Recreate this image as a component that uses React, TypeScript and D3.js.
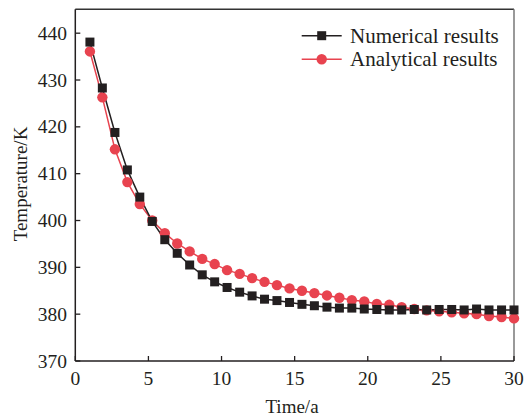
import React from "react";
import * as d3 from "d3";

const timeValues = [1.0, 1.85, 2.71, 3.56, 4.41, 5.26, 6.12, 6.97, 7.82, 8.68, 9.53, 10.38, 11.24, 12.09, 12.94, 13.79, 14.65, 15.5, 16.35, 17.21, 18.06, 18.91, 19.76, 20.62, 21.47, 22.32, 23.18, 24.03, 24.88, 25.74, 26.59, 27.44, 28.29, 29.15, 30.0];
const numericalResults = [438.1, 428.3, 418.8, 410.8, 405.0, 399.8, 395.9, 393.0, 390.5, 388.4, 386.9, 385.7, 384.7, 383.9, 383.2, 382.9, 382.5, 382.1, 381.8, 381.5, 381.3, 381.3, 381.1, 381.0, 380.9, 380.9, 381.0, 380.9, 381.0, 381.0, 380.9, 381.1, 380.9, 380.9, 380.9];
const analyticalResults = [436.1, 426.3, 415.2, 408.2, 403.5, 400.0, 397.3, 395.1, 393.4, 391.8, 390.7, 389.4, 388.6, 387.7, 386.9, 386.2, 385.5, 385.0, 384.5, 384.0, 383.5, 383.0, 382.7, 382.2, 382.0, 381.5, 381.1, 380.8, 380.6, 380.4, 380.2, 380.0, 379.6, 379.4, 379.1];
const xTicks = [0, 5, 10, 15, 20, 25, 30];
const yTicks = [370, 380, 390, 400, 410, 420, 430, 440];
const seriesNames = ["Numerical results", "Analytical results"];

const W = 524, H = 419;
const left = 75.3, right = 514, top = 9.3, bottom = 361;
const BLACK = "#231f20";
const RED = "#e8434f";
const FONT = "'Liberation Serif', 'Times New Roman', serif";

export default function App() {
  const x = d3.scaleLinear().domain([0, 30]).range([left, right]);
  const y = d3.scaleLinear().domain([370, 445.1]).range([bottom, top]);
  const line = d3.line<number>().x((_, i) => x(timeValues[i])).y((d) => y(d));
  const sq = 9;
  return (
    <svg width={W} height={H} style={{ position: "absolute", left: 0, top: 0, background: "#fff" }} fontFamily={FONT}>
      {/* frame */}
      <line x1={left} x2={right} y1={top} y2={top} stroke="#333" strokeWidth={1.5} />
      <line x1={right} x2={right} y1={top} y2={bottom} stroke="#777" strokeWidth={1.5} />
      <line x1={left} x2={left} y1={top} y2={bottom} stroke={BLACK} strokeWidth={1.5} />
      <line x1={left} x2={right} y1={bottom} y2={bottom} stroke={BLACK} strokeWidth={1.5} />
      {xTicks.map((t) => (
        <g key={"x" + t}>
          <line x1={x(t)} x2={x(t)} y1={bottom} y2={bottom - 5} stroke={BLACK} strokeWidth={1.3} />
          <text x={x(t)} y={385} textAnchor="middle" fontSize={19.5} fill={BLACK}>{t}</text>
        </g>
      ))}
      {yTicks.map((t) => (
        <g key={"y" + t}>
          <line x1={left} x2={left + 5} y1={y(t)} y2={y(t)} stroke={BLACK} strokeWidth={1.3} />
          <text x={67} y={y(t) + 6.5} textAnchor="end" fontSize={19.5} fill={BLACK}>{t}</text>
        </g>
      ))}
      <text x={292} y={413} textAnchor="middle" fontSize={19} fill={BLACK}>Time/a</text>
      <text transform={`translate(27,184) rotate(-90)`} textAnchor="middle" fontSize={19} fill={BLACK}>Temperature/K</text>

      {/* series */}
      <path d={line(analyticalResults) || ""} fill="none" stroke={RED} strokeWidth={1.5} />
      <path d={line(numericalResults) || ""} fill="none" stroke={BLACK} strokeWidth={1.5} />
      {analyticalResults.map((v, i) => (
        <circle key={"a" + i} cx={x(timeValues[i])} cy={y(v)} r={5.2} fill={RED} />
      ))}
      {numericalResults.map((v, i) => (
        <rect key={"n" + i} x={x(timeValues[i]) - sq / 2} y={y(v) - sq / 2} width={sq} height={sq} fill={BLACK} />
      ))}

      {/* legend */}
      <line x1={301.7} x2={341.7} y1={35.7} y2={35.7} stroke={BLACK} strokeWidth={1.5} />
      <rect x={321.7 - sq / 2} y={35.7 - sq / 2} width={sq} height={sq} fill={BLACK} />
      <text x={350} y={42.7} fontSize={21} fill={BLACK}>{seriesNames[0]}</text>
      <line x1={301.7} x2={341.7} y1={59.3} y2={59.3} stroke={RED} strokeWidth={1.5} />
      <circle cx={321.7} cy={59.3} r={5.2} fill={RED} />
      <text x={350} y={66.3} fontSize={21} fill={BLACK}>{seriesNames[1]}</text>
    </svg>
  );
}
